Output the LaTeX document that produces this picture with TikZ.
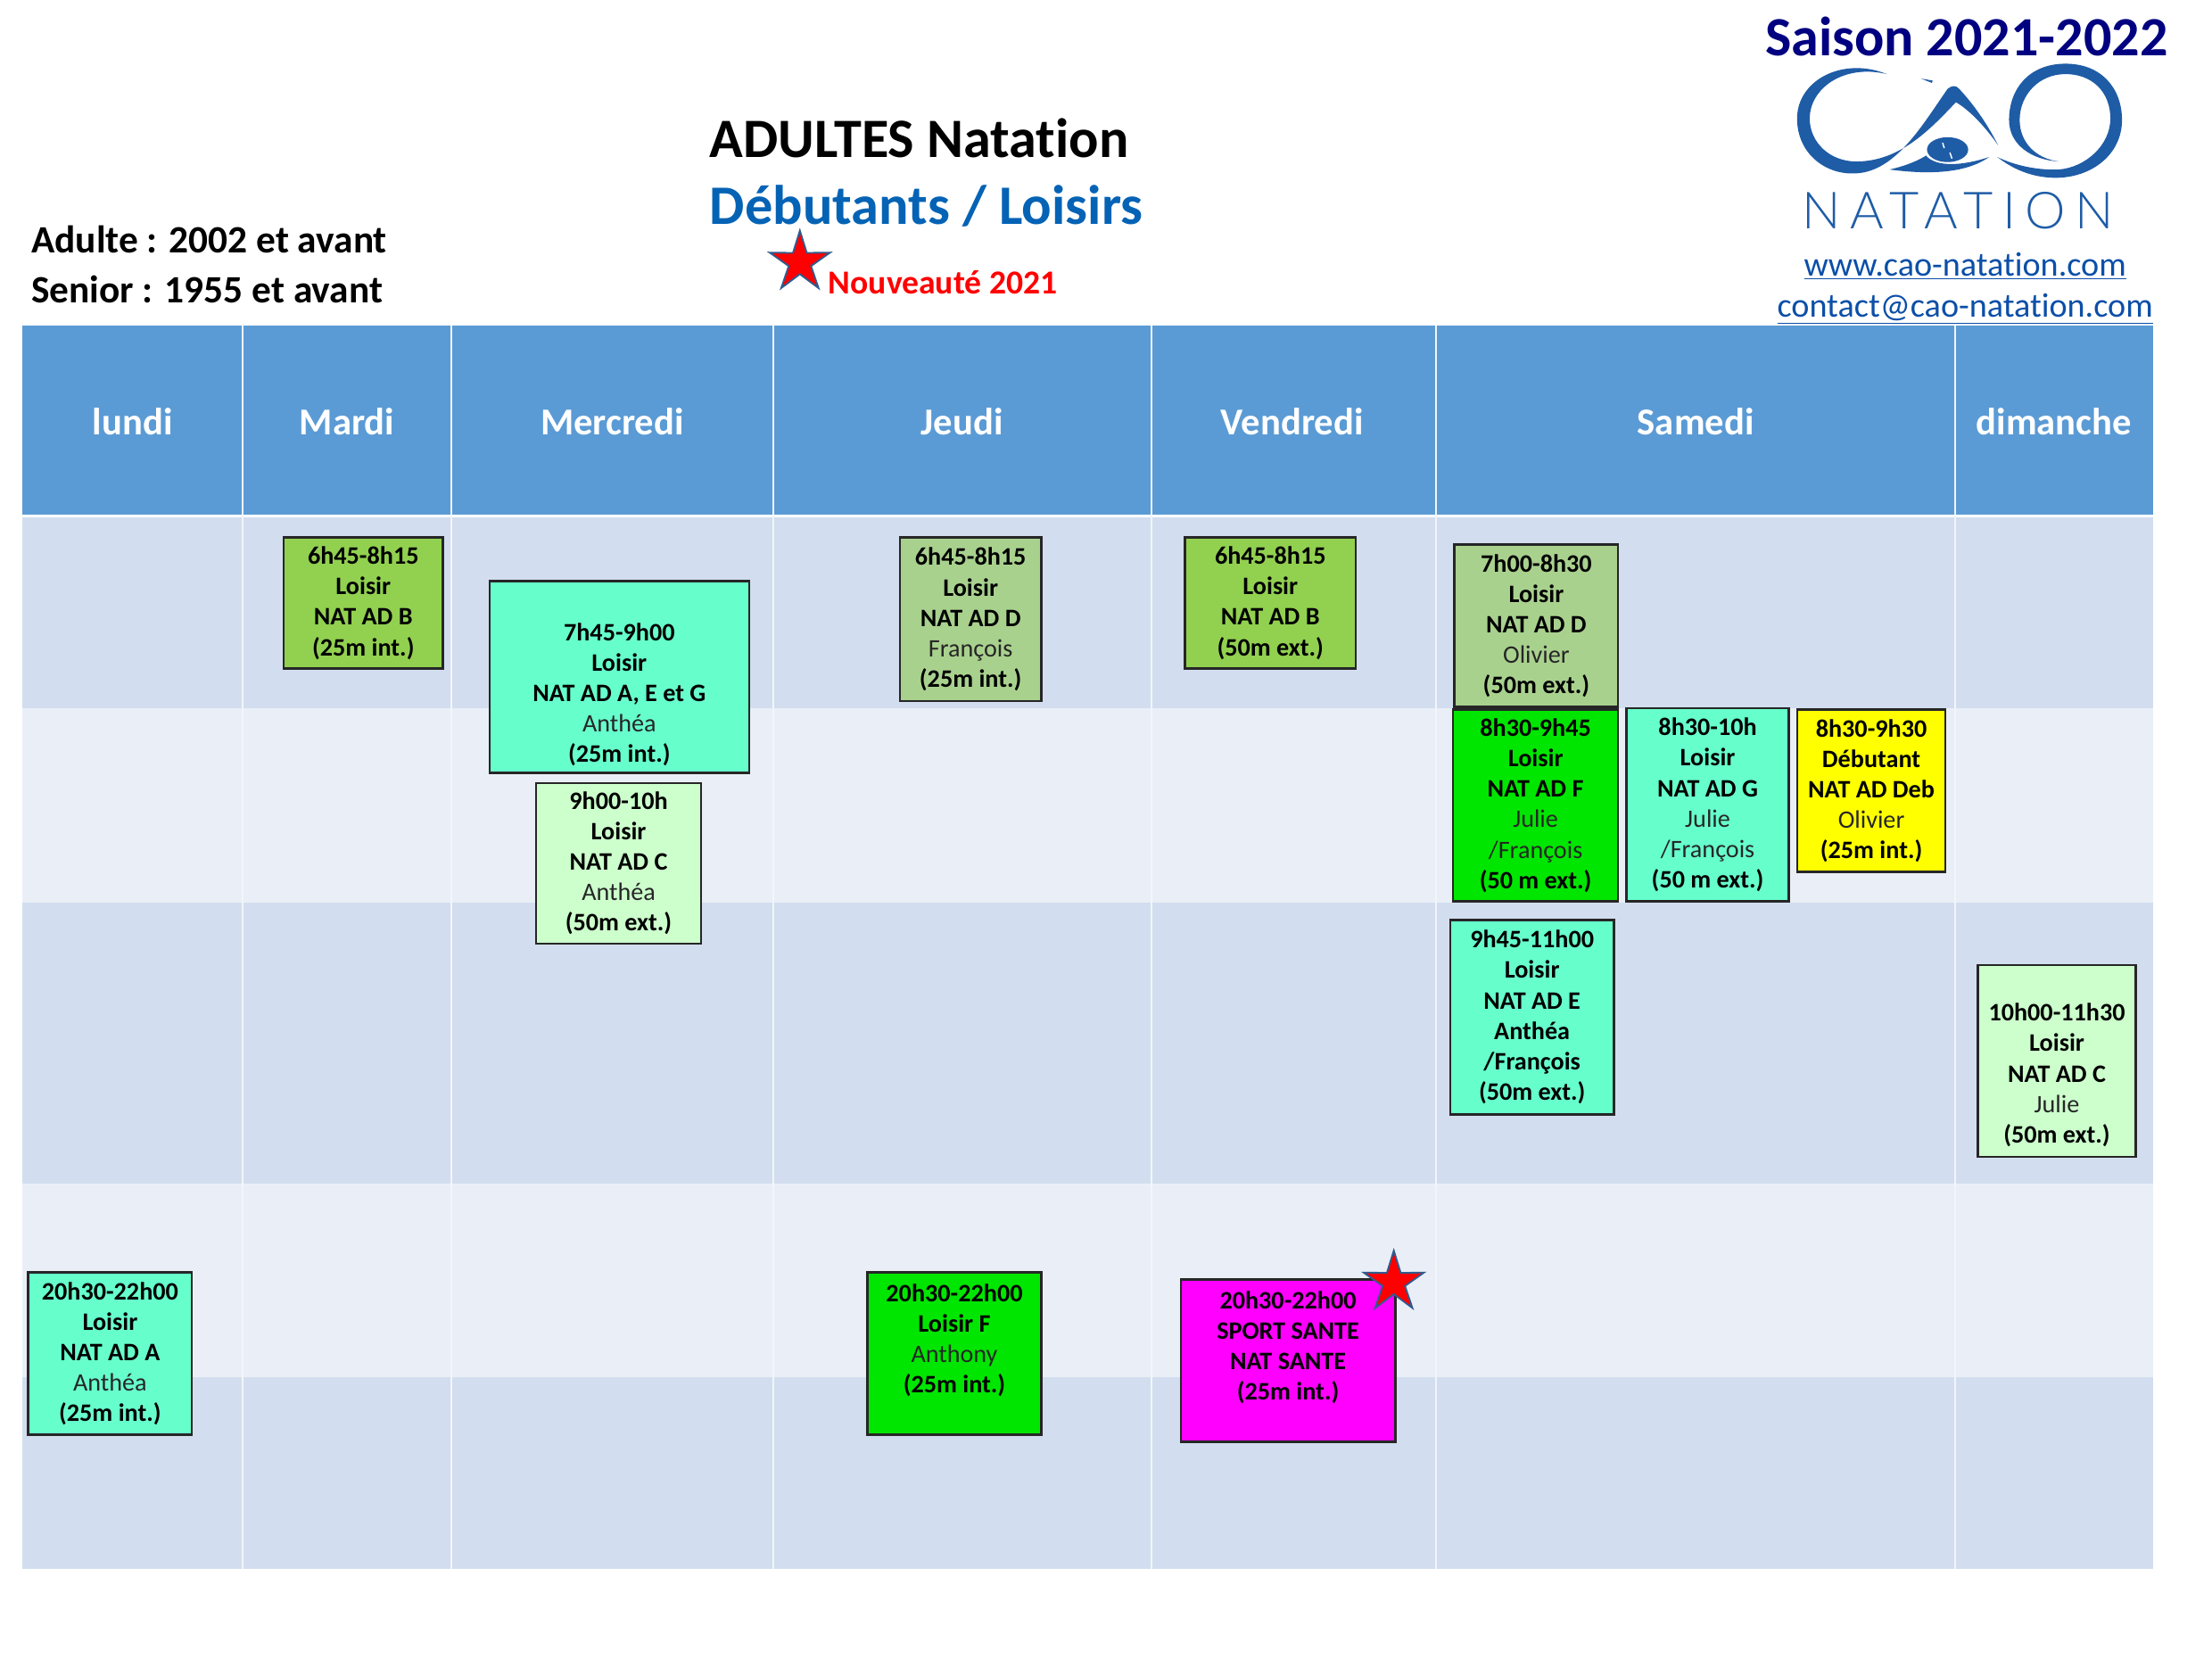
\documentclass[tikz,border=0pt]{standalone}
\usepackage{fontspec}
\setmainfont[Ligatures=CommonOff]{Carlito}
\newfontfamily\logofont[LetterSpace=18]{Lato Light}
\usetikzlibrary{shapes.geometric}
\definecolor{headblue}{HTML}{5B9BD5}
\definecolor{rowdark}{HTML}{D2DEEF}
\definecolor{rowlight}{HTML}{EAEFF7}
\definecolor{gridc}{HTML}{F2F5FA}
\definecolor{cgreen}{HTML}{92D050}
\definecolor{colive}{HTML}{A9D18E}
\definecolor{caqua}{HTML}{66FFCC}
\definecolor{cpale}{HTML}{CCFFCC}
\definecolor{cbright}{HTML}{00E600}
\definecolor{cyellow}{HTML}{FFFF00}
\definecolor{cmagenta}{HTML}{FF00FF}
\definecolor{titleblue}{HTML}{0563B5}
\definecolor{navy}{HTML}{000080}
\definecolor{logoblue}{HTML}{1F5CA6}
\definecolor{linkblue}{HTML}{0B4FA8}
\definecolor{starline}{HTML}{2F5C8F}
\newcommand{\slot}[7]{%
  \pgfmathsetmacro\slw{(#4-#2)*0.03}%
  \pgfmathsetmacro\slh{(#5-#3)*0.03}%
  \node[slotbox,fill=#6,minimum width=\slw cm,minimum height=\slh cm] (#1) at ({(#2+#4)/2},{(#3+#5)/2}) {#7};}
\newcommand{\who}[1]{{\normalfont\fontsize{15.2}{18.4}\selectfont\color{black!85}#1}}
\tikzset{
  slotbox/.style={draw=black!85,line width=1.4pt,inner sep=0pt,align=center,
    font=\bfseries\fontsize{15.2}{18.4}\selectfont,text=black},
  dayname/.style={text=white,font=\bfseries\fontsize{23}{26}\selectfont,inner sep=0pt},
  gridline/.style={draw=gridc,line width=1.2pt},
  newstar/.style={star,star points=5,star point ratio=2.7,draw=starline,line width=1pt,fill=red,inner sep=0pt,minimum size=1.35cm},
  linktext/.style={text=linkblue,font=\fontsize{20.6}{24}\selectfont,inner sep=0pt},
  headtext/.style={inner sep=0pt,anchor=west}
}
\begin{document}
\begin{tikzpicture}[x=0.03cm,y=-0.03cm]
\useasboundingbox (0,0) rectangle (1568,1176);
\fill[white] (0,0) rectangle (1568,1176);
% table bands
\fill[headblue] (16,231) rectangle (1526,365);
\fill[rowdark] (16,367) rectangle (1526,502);
\fill[rowlight] (16,502) rectangle (1526,640);
\fill[rowdark] (16,640) rectangle (1526,839);
\fill[rowlight] (16,839) rectangle (1526,976);
\fill[rowdark] (16,976) rectangle (1526,1112);
\foreach \cx in {172,320,548,816,1018,1386}
  \draw[gridline] (\cx,231) -- (\cx,1112);
% day names
\node[dayname] (lun) at (94,299) {lundi};
\node[dayname] (mar) at (246,299) {Mardi};
\node[dayname] (mer) at (434,299) {Mercredi};
\node[dayname] (jeu) at (682,299) {Jeudi};
\node[dayname] (ven) at (916,299) {Vendredi};
\node[dayname] (sam) at (1202,299) {Samedi};
\node[dayname] (dim) at (1456,299) {dimanche};
% titles
\node[headtext,font=\bfseries\fontsize{33.6}{36}\selectfont] (t1) at (503,98) {ADULTES Natation};
\node[headtext,text=titleblue,font=\bfseries\fontsize{33.7}{38}\selectfont] (t2) at (503,146) {Débutants / Loisirs};
\node[headtext,font=\bfseries\fontsize{23.4}{26}\selectfont] (a1) at (22,170) {Adulte : 2002 et avant};
\node[headtext,font=\bfseries\fontsize{23.4}{26}\selectfont] (a2) at (22,205) {Senior : 1955 et avant};
\node[headtext,text=red,font=\bfseries\fontsize{20.3}{24}\selectfont] (nv) at (587,200) {Nouveauté 2021};
\node[newstar] (s1) at (567,186) {};
% top right
\node[headtext,text=navy,font=\bfseries\fontsize{33.5}{36}\selectfont] (sa) at (1251,26) {Saison 2021-2022};
\node[linktext] (www) at (1393,188.5) {\underline{www.cao-natation.com}};
\node[linktext] (mail) at (1393,219) {\underline{contact@cao-natation.com}};
% logo
\begin{scope}[shift={(1200.4,0)},x=0.00706cm,y=-0.0063cm]
  \fill[logoblue] (582,250) .. controls (450,190) and (312,270) .. (312,400)
    .. controls (312,520) and (400,592) .. (490,585)
    .. controls (610,578) and (690,420) .. (765,300)
    .. controls (775,290) and (790,285) .. (800,300)
    .. controls (850,360) and (890,430) .. (917,490)
    .. controls (880,430) and (830,370) .. (790,345)
    .. controls (710,440) and (620,545) .. (490,545)
    .. controls (410,545) and (350,480) .. (350,400)
    .. controls (350,300) and (450,215) .. (582,250) -- cycle;
  \fill[logoblue] (1100,545) .. controls (1020,540) and (950,490) .. (950,405)
    .. controls (950,300) and (1010,215) .. (1120,215)
    .. controls (1230,215) and (1290,300) .. (1290,405)
    .. controls (1290,520) and (1200,600) .. (1090,600)
    .. controls (1020,600) and (960,570) .. (915,530)
    .. controls (970,560) and (1040,575) .. (1100,572)
    .. controls (1180,565) and (1255,490) .. (1255,400)
    .. controls (1255,310) and (1200,250) .. (1120,250)
    .. controls (1040,250) and (982,320) .. (982,405)
    .. controls (982,480) and (1030,535) .. (1100,545) -- cycle;
  \fill[logoblue] (765,505) ellipse (62 and 42);
  \draw[white,line width=0.8pt] (750,482) -- (755,500) (772,515) -- (778,535);
  \fill[logoblue] (590,572) .. controls (640,560) and (680,540) .. (700,525)
    .. controls (730,565) and (810,560) .. (890,530)
    .. controls (820,585) and (710,590) .. (590,572) -- cycle;
  \fill[logoblue] (685,265) -- (720,272) -- (718,280) -- cycle;
\end{scope}
\node[inner sep=0pt,text=logoblue,font=\logofont\fontsize{31}{36}\selectfont] (nat) at (1388,149) {NATATION};
% sessions
\slot{b1}{201}{381}{314}{474}{cgreen}{6h45-8h15\\Loisir\\NAT AD B\\(25m int.)}
\slot{b2}{347}{412}{531}{548}{caqua}{\mbox{}\\[13.6pt]7h45-9h00\\Loisir\\NAT AD A, E et G\\\who{Anthéa}\\(25m int.)}
\slot{b3}{380}{555}{497}{669}{cpale}{9h00-10h\\Loisir\\NAT AD C\\\who{Anthéa}\\(50m ext.)}
\slot{b4}{638}{381}{738}{497}{colive}{6h45-8h15\\Loisir\\NAT AD D\\\who{François}\\(25m int.)}
\slot{b5}{840}{381}{961}{474}{cgreen}{6h45-8h15\\Loisir\\NAT AD B\\(50m ext.)}
\slot{b6}{1031}{386}{1147}{501}{colive}{7h00-8h30\\Loisir\\NAT AD D\\\who{Olivier}\\(50m ext.)}
\slot{b7}{1030}{503}{1147}{639}{cbright}{8h30-9h45\\Loisir\\NAT AD F\\\who{Julie}\\\who{/François}\\(50 m ext.)}
\slot{b8}{1153}{502}{1268}{639}{caqua}{8h30-10h\\Loisir\\NAT AD G\\\who{Julie}\\\who{/François}\\(50 m ext.)}
\slot{b9}{1274}{503}{1379}{618}{cyellow}{8h30-9h30\\Débutant\\NAT AD Deb\\\who{Olivier}\\(25m int.)}
\slot{b10}{1028}{652}{1144}{790}{caqua}{9h45-11h00\\Loisir\\NAT AD E\\Anthéa\\/François\\(50m ext.)}
\slot{b11}{1402}{684}{1514}{820}{cpale}{\mbox{}\\[9.4pt]10h00-11h30\\Loisir\\NAT AD C\\\who{Julie}\\(50m ext.)}
\slot{b12}{20}{902}{136}{1017}{caqua}{20h30-22h00\\Loisir\\NAT AD A\\\who{Anthéa}\\(25m int.)}
\slot{b13}{615}{902}{738}{1017}{cbright}{20h30-22h00\\Loisir F\\\who{Anthony}\\(25m int.)\\\mbox{}}
\slot{b14}{837}{907}{989}{1022}{cmagenta}{20h30-22h00\\SPORT SANTE\\NAT SANTE\\(25m int.)\\\mbox{}}
\node[newstar] (s2) at (988,909) {};
\end{tikzpicture}
\end{document}
